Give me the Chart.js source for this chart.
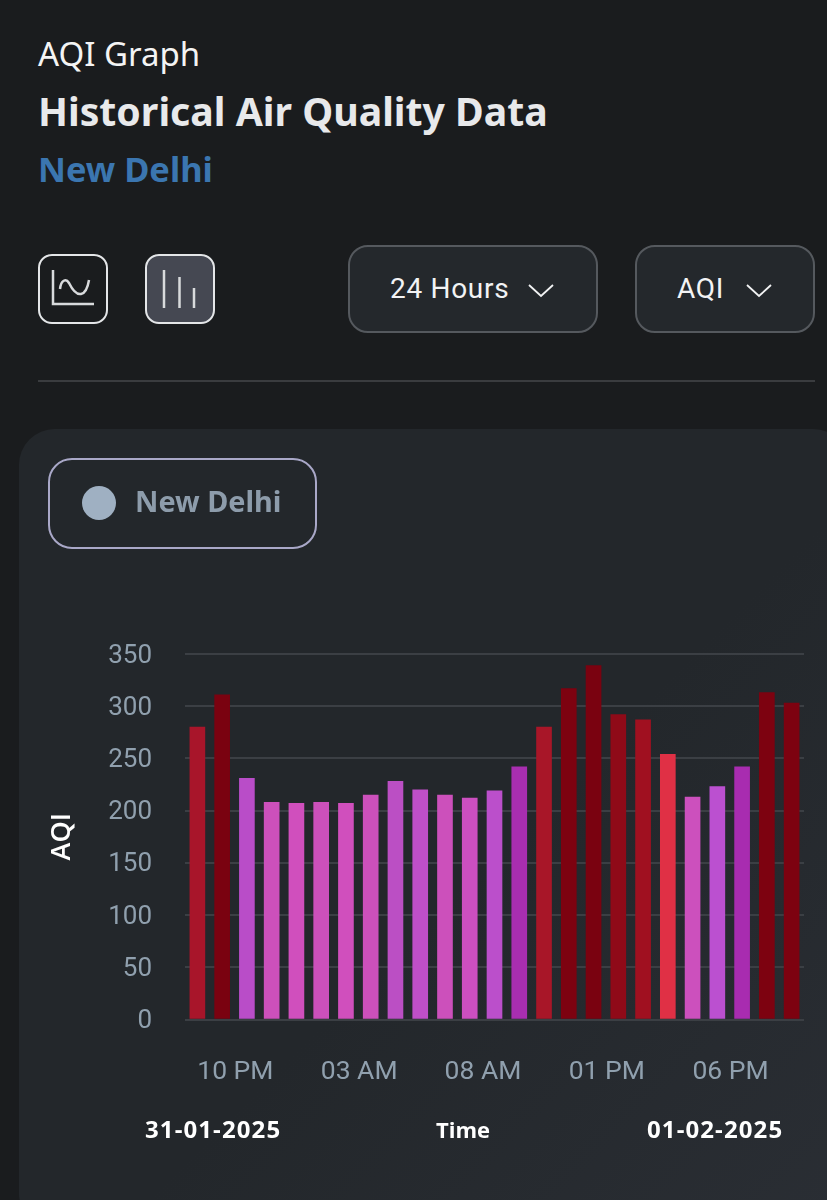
<!DOCTYPE html>
<html>
<head>
<meta charset="utf-8">
<title>AQI Graph</title>
<script src="https://cdn.jsdelivr.net/npm/chart.js@4"></script>
<style>
  html, body { margin: 0; padding: 0; background: #1a1c1e; }
  body { position: relative; width: 827px; height: 1200px; overflow: hidden; font-family: "Noto Sans", sans-serif; color: #fff; }
  .abs { position: absolute; white-space: nowrap; }
  .icon-btn { position: absolute; box-sizing: border-box; top: 254px; width: 70px; height: 70px; border: 2px solid #e4e6e8; border-radius: 14px; }
  .select { position: absolute; box-sizing: border-box; top: 245px; height: 88px; background: #24282c; border: 2px solid #55595e; border-radius: 20px; }
  .select span { position: absolute; top: 24px; font: 28px/36px Roboto, sans-serif; color: #f2f3f4; letter-spacing: 0.7px; }
  .select svg { position: absolute; top: 36px; }
  #card { position: absolute; left: 19px; top: 429px; width: 830px; height: 800px; border-radius: 36px; background: linear-gradient(135deg, #23272b 55%, #2a2e34 100%); }
  #pill { position: absolute; box-sizing: border-box; left: 29px; top: 29px; width: 269px; height: 91px; border: 2px solid #a9a8c8; border-radius: 24px; }
  #pill i { position: absolute; left: 32px; top: 26px; width: 34px; height: 34px; border-radius: 50%; background: #9fb0c2; }
  #pill span { position: absolute; left: 85px; top: 22px; font: bold 28.8px/38px "Noto Sans", sans-serif; color: #8d9cab; }
  #chart { position: absolute; left: 0; top: 0; }
  .foot { position: absolute; top: 1115px; font: bold 22px/28px "Open Sans", sans-serif; color: #fff; white-space: nowrap; }
  .foot.date { font-size: 24px; letter-spacing: 1.1px; }
</style>
</head>
<body>
  <div class="abs" style="left:38px;top:34px;font-size:33px;line-height:40px;color:#f4f4f4">AQI Graph</div>
  <div class="abs" style="left:38px;top:87px;font-size:39.2px;line-height:48px;font-weight:bold;color:#e8e9eb">Historical Air Quality Data</div>
  <div class="abs" style="left:38px;top:148px;font-size:34.4px;line-height:42px;font-weight:bold;color:#3b76b0">New Delhi</div>

  <div class="icon-btn" style="left:38px">
    <svg width="66" height="66" fill="none" stroke="#d8dadc" stroke-width="2.5">
      <path d="M13 14 V48 H54"/>
      <path d="M20 33 C21 24 26 22 29 27 C32 33 36 39 41 38 C46 37 48 30 49 24"/>
    </svg>
  </div>
  <div class="icon-btn" style="left:145px;background:#454852">
    <svg width="66" height="66" fill="none" stroke="#d8dadc" stroke-width="2.5">
      <path d="M17 14 V52 M32.5 21 V52 M47 32 V52"/>
    </svg>
  </div>

  <div class="select" style="left:348px;width:250px">
    <span style="left:40px">24 Hours</span>
    <svg style="left:177px" width="28" height="16" fill="none" stroke="#f2f3f4" stroke-width="1.8"><path d="M2 2 L14 13 L26 2"/></svg>
  </div>
  <div class="select" style="left:635px;width:180px">
    <span style="left:40px">AQI</span>
    <svg style="left:108px" width="28" height="16" fill="none" stroke="#f2f3f4" stroke-width="1.8"><path d="M2 2 L14 13 L26 2"/></svg>
  </div>

  <div class="abs" style="left:38px;top:380px;width:777px;height:2px;background:#3a3c3f"></div>

  <div id="card">
    <canvas id="chart" width="808" height="771"></canvas>
    <div id="pill"><i></i><span>New Delhi</span></div>
  </div>

  <div class="foot date" style="left:145px">31-01-2025</div>
  <div class="foot" style="left:436px">Time</div>
  <div class="foot date" style="left:647px">01-02-2025</div>

<script>
// One reading per hour
const hourLabels = ['09 PM', '10 PM', '11 PM', '12 AM', '01 AM', '02 AM', '03 AM', '04 AM', '05 AM',
    '06 AM', '07 AM', '08 AM', '09 AM', '10 AM', '11 AM', '12 PM', '01 PM', '02 PM', '03 PM',
    '04 PM', '05 PM', '06 PM', '07 PM', '08 PM', '09 PM'];
const aqiValues = [280, 311, 231, 208, 207, 208, 207, 215, 228, 220, 215, 212, 219, 242,
    280, 317, 339, 292, 287, 254, 213, 223, 242, 313, 303];
const barColors = ['#a8152a', '#7a0210', '#b94dc8', '#cc50bb', '#d04fbd', '#cc50bb', '#d04fbd', '#cc50bb',
    '#bb4fc4', '#bf4fc8', '#cc50bb', '#cc4fc0', '#bb4fcb', '#a82eb0', '#a81628', '#7d0210', '#7a0210',
    '#8f0a18', '#a01020', '#e03045', '#cc50bd', '#bb50d0', '#a82cb0', '#7d0210', '#7d0210'];
const yTicks = [0, 50, 100, 150, 200, 250, 300, 350];

const tickColor = '#90a0ae';

new Chart(document.getElementById('chart'), {
    type: 'bar',
    data: {
        labels: hourLabels,
        datasets: [{
            label: 'AQI',
            data: aqiValues,
            backgroundColor: barColors,
            barThickness: 15
        }]
    },
    options: {
        responsive: false,
        animation: false,
        layout: { padding: { top: 225, right: 23, bottom: 0, left: 27 } },
        plugins: { legend: { display: false }, tooltip: { enabled: false } },
        scales: {
            x: {
                grid: { display: false },
                border: { display: false },
                afterFit: (scale) => { scale.height = 180.5; },
                ticks: {
                    autoSkip: false,
                    maxRotation: 0,
                    minRotation: 0,
                    padding: 29,
                    labelOffset: 13.2,
                    color: tickColor,
                    font: { family: 'Roboto', size: 26.5 },
                    // only every fifth hour gets a label
                    callback: (value, index) => (index % 5 === 1 ? hourLabels[index] : '')
                }
            },
            y: {
                min: 0,
                max: 350,
                grid: { color: '#3b3f44', lineWidth: 2, drawTicks: false },
                border: { display: false },
                afterBuildTicks: (scale) => { scale.ticks = yTicks.map(v => ({ value: v })); },
                afterFit: (scale) => { scale.width = 139; },
                title: {
                    display: true,
                    text: 'AQI',
                    color: '#ffffff',
                    padding: 0,
                    font: { family: 'Open Sans', size: 27, weight: '600' }
                },
                ticks: {
                    padding: 33,
                    labelOffset: 2,
                    color: tickColor,
                    font: { family: 'Roboto', size: 26 }
                }
            }
        }
    }
});
</script>
</body>
</html>
